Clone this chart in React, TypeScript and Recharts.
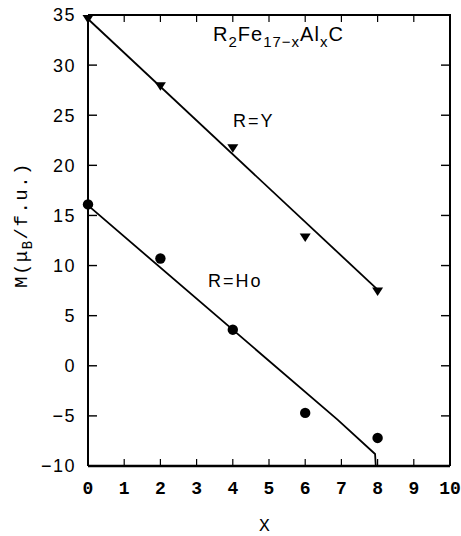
import { Scatter, ScatterChart, XAxis, YAxis } from 'recharts'

// measured points, R = Y (triangles) and R = Ho (circles)
const xValues = [0, 2, 4, 6, 8]
const yMoments = [34.6, 27.9, 21.7, 12.8, 7.4]
const hoMoments = [16.1, 10.7, 3.6, -4.7, -7.2]

// hand-drawn guide lines
const yFitX = [0, 8]
const yFitM = [34.6, 7.6]
const hoFitX = [0, 6.9, 7.93, 7.95]
const hoFitM = [16, -5.4, -8.8, -10]

const xTicks = [0, 1, 2, 3, 4, 5, 6, 7, 8, 9, 10]
const yTicks = [-10, -5, 0, 5, 10, 15, 20, 25, 30, 35]

const X_MIN = 0
const X_MAX = 10
const Y_MIN = -10
const Y_MAX = 35

const toPts = (xs: number[], ys: number[]) => xs.map((x, i) => ({ x, m: ys[i] }))

const yData = toPts(xValues, yMoments)
const hoData = toPts(xValues, hoMoments)
const yFit = toPts(yFitX, yFitM)
const hoFit = toPts(hoFitX, hoFitM)

// closing frame (top and right edges) and inward tick marks on all four sides
const frameTopRight = [
  { x: X_MIN, m: Y_MAX },
  { x: X_MAX, m: Y_MAX },
  { x: X_MAX, m: Y_MIN },
]
const innerX = xTicks.filter((t) => t > X_MIN && t < X_MAX)
const innerY = yTicks.filter((t) => t > Y_MIN && t < Y_MAX)
const bottomMarks = innerX.map((t) => ({ x: t, m: Y_MIN }))
const topMarks = innerX.map((t) => ({ x: t, m: Y_MAX }))
const leftMarks = innerY.map((t) => ({ x: X_MIN, m: t }))
const rightMarks = innerY.map((t) => ({ x: X_MAX, m: t }))

const sans = '"Liberation Sans", Arial, sans-serif'
const mono = '"Liberation Mono", "DejaVu Sans Mono", monospace'

const fmt = (v: number) => (v < 0 ? '\u2212' + Math.abs(v) : String(v))

function LeftTick({ x, y, payload }: any) {
  return (
    <text x={x} y={y} dy="0.36em" textAnchor="end" fontFamily={sans} fontSize={18} letterSpacing={1.5} fill="#000">
      {fmt(payload.value)}
    </text>
  )
}

function BottomTick({ x, y, payload }: any) {
  return (
    <text x={x} y={y} dy="0.78em" textAnchor="middle" fontFamily={mono} fontSize={18} fontWeight="bold" fill="#000">
      {payload.value}
    </text>
  )
}

function DownTriangle({ cx, cy }: any) {
  return <polygon points={`${cx - 5.5},${cy - 4} ${cx + 5.5},${cy - 4} ${cx},${cy + 4.5}`} fill="#000" />
}

function Dot({ cx, cy }: any) {
  return <circle cx={cx} cy={cy} r={5.2} fill="#000" />
}

// short inward tick marks as thin filled bars; (x0, y0, w, h) relative to the point
const mark = (x0: number, y0: number, w: number, h: number) =>
  function Mark({ cx, cy }: any) {
    return <rect x={cx + x0} y={cy + y0} width={w} height={h} fill="#000" />
  }
const UpMark = mark(-0.6, -7, 1.2, 7)
const DownMark = mark(-0.6, 0, 1.2, 7)
const RightMark = mark(0, -0.7, 9, 1.4)
const LeftMark = mark(-9, -0.7, 9, 1.4)

const Empty = () => <g />

const label = (left: number, top: number, size: number, family: string, extra: any = {}): any => ({
  position: 'absolute',
  left,
  top,
  fontSize: size,
  fontFamily: family,
  lineHeight: 1,
  whiteSpace: 'nowrap',
  color: '#000',
  ...extra,
})

const sub = (size: number, drop: number): any => ({ fontSize: size, position: 'relative', top: drop })

export default function App() {
  return (
    <div style={{ position: 'absolute', left: 0, top: 0, width: 461, height: 536, background: '#fff' }}>
      <ScatterChart width={461} height={536} margin={{ top: 15, right: 11, bottom: 0, left: 0 }}>
        <XAxis
          dataKey="x"
          type="number"
          domain={[X_MIN, X_MAX]}
          ticks={xTicks}
          height={70}
          tickSize={0}
          tickMargin={14}
          tickLine={false}
          tick={<BottomTick />}
          axisLine={{ stroke: '#000', strokeWidth: 2.5 }}
          interval={0}
        />
        <YAxis
          dataKey="m"
          type="number"
          domain={[Y_MIN, Y_MAX]}
          ticks={yTicks}
          width={88}
          tickSize={0}
          tickMargin={12}
          tickLine={false}
          tick={<LeftTick />}
          axisLine={{ stroke: '#000', strokeWidth: 2 }}
          interval={0}
        />
        <Scatter data={yFit} line={{ stroke: '#000', strokeWidth: 1.8 }} shape={<Empty />} isAnimationActive={false} />
        <Scatter data={hoFit} line={{ stroke: '#000', strokeWidth: 1.8 }} shape={<Empty />} isAnimationActive={false} />
        <Scatter data={yData} shape={<DownTriangle />} isAnimationActive={false} />
        <Scatter data={hoData} shape={<Dot />} isAnimationActive={false} />
        <Scatter data={frameTopRight} line={{ stroke: '#000', strokeWidth: 2 }} shape={<Empty />} isAnimationActive={false} />
        <Scatter data={bottomMarks} shape={<UpMark />} isAnimationActive={false} />
        <Scatter data={topMarks} shape={<DownMark />} isAnimationActive={false} />
        <Scatter data={leftMarks} shape={<RightMark />} isAnimationActive={false} />
        <Scatter data={rightMarks} shape={<LeftMark />} isAnimationActive={false} />
      </ScatterChart>

      <div style={label(213, 24, 20, sans, { letterSpacing: 1 })}>
        R<span style={sub(15, 6)}>2</span>Fe<span style={sub(15, 6)}>17−x</span>Al<span style={sub(15, 6)}>x</span>C
      </div>
      <div style={label(233, 112, 18, sans, { letterSpacing: 2 })}>R=Y</div>
      <div style={label(208, 272, 18, sans, { letterSpacing: 2 })}>R=Ho</div>
      <div style={label(259, 517, 18, mono)}>X</div>
      <div style={label(22, 225, 19, mono, { letterSpacing: 1.5, transform: 'translate(-50%, -50%) rotate(-90deg)' })}>
        M(μ<span style={sub(14, 5)}>B</span>/f.u.)
      </div>
    </div>
  )
}
